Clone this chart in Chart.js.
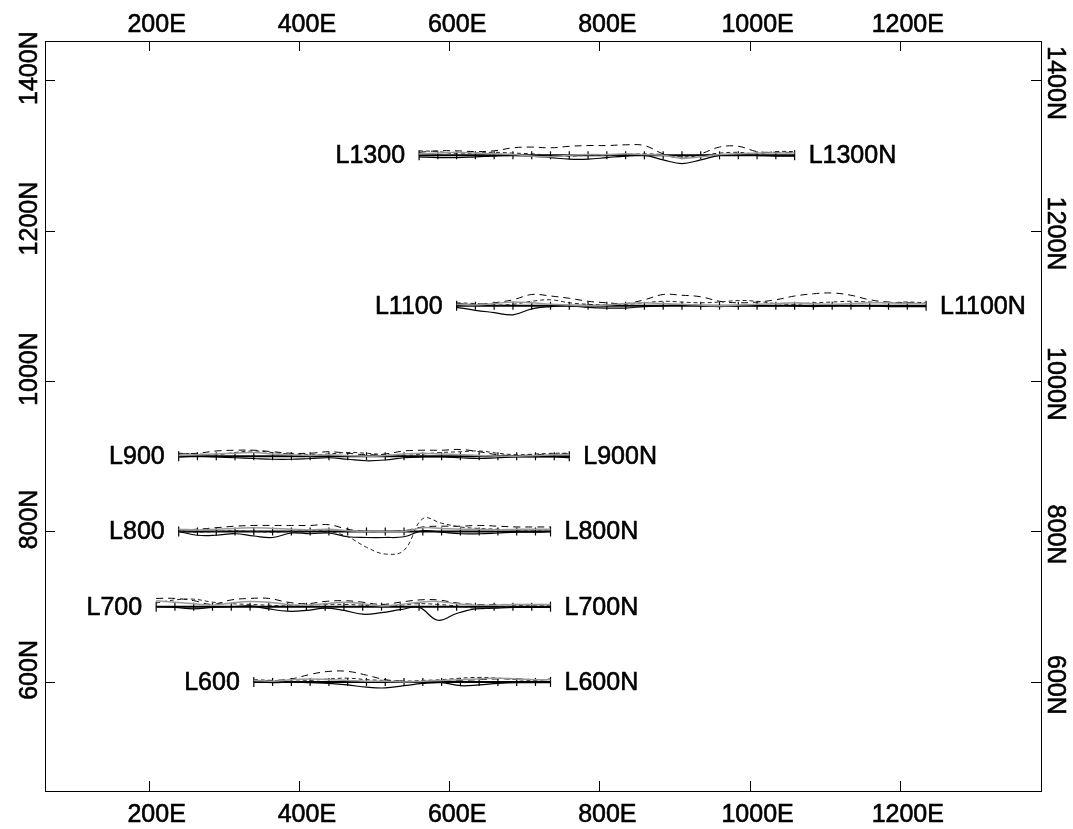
<!DOCTYPE html>
<html>
<head>
<meta charset="utf-8">
<script src="https://cdn.jsdelivr.net/npm/chart.js@4.4.0/dist/chart.umd.min.js"></script>
<style>
  html, body { margin: 0; padding: 0; background: #fff; }
  #chart { display: block; }
</style>
</head>
<body>
<canvas id="chart" width="1073" height="829"></canvas>
<script>
// axis ticks
const eastTicks = [200, 400, 600, 800, 1000, 1200];
const northTicks = [600, 800, 1000, 1200, 1400];

// survey lines
const lineNames = ["L1300", "L1100", "L900", "L800", "L700", "L600"];
const lineNorths = [1300, 1100, 900, 800, 700, 600];
const lineStarts = [560, 610, 240, 240, 210, 340];
const lineEnds = [1060, 1235, 760, 735, 735, 735];
const stationStep = 25;

// profile offsets (north units) at each station
const l1300Solid = [-2, -3, -3, -2, -1, 0, -1, -3, -5, -5, -3, -1, 0, -6, -11, -6, 0, 1, 0, -1, -1];
const l1300Dashed = [4, 6, 6, 5, 6, 10, 11, 10, 12, 13, 13, 14, 13, 2, -4, 2, 11, 12, 5, 4, 4];
const l1300Dotted = [6, 5, 2, 3, 4, 3, 2, 0, -1, 0, 0, 1, 2, 1, -2, 0, 3, 4, 2, 5, 5];
const l1300Gray = [2, 3, 4, 3, 2, 1, -1, -2, 0, 1, 1, 2, 1, 0, -4, -2, 1, 2, 3, 3, 3];

const l1100Solid = [-2, -6, -9, -12, -4, -1, 0, -2, -3, -3, -1, 0, 1, 0, -1, 0, 0, 0, 0, -1, 0, 0, 0, -1, -1, -1];
const l1100Dashed = [3, 2, 4, 8, 15, 13, 10, 6, 4, 3, 8, 15, 14, 12, 6, 4, 5, 8, 13, 16, 17, 14, 8, 5, 4, 3];
const l1100Dotted = [4, 3, 1, 2, 6, 8, 4, 2, 1, 2, 4, 6, 5, 4, 5, 7, 6, 3, 2, 4, 5, 6, 5, 4, 5, 4];
const l1100Gray = [2, 1, 3, 5, 4, 2, 1, 0, 1, 3, 4, 3, 2, 1, 0, 1, 2, 3, 4, 3, 2, 3, 4, 4, 3, 3];

const l900Solid = [-1, 0, -1, -2, -3, -4, -4, -3, -2, -4, -6, -5, -2, -1, -1, -2, -3, -2, -1, -1, -1, -2];
const l900Dashed = [3, 4, 7, 8, 8, 6, 4, 4, 6, 4, 2, 3, 7, 8, 8, 9, 6, 2, 1, 2, 3, 3];
const l900Dotted = [4, 3, 2, 5, 7, 5, 3, 2, 3, 5, 4, 2, 1, 3, 5, 6, 7, 4, 2, 3, 4, 4];
const l900Gray = [1, 2, 3, 4, 5, 3, 2, 1, 2, 1, 0, 1, 3, 4, 3, 2, 1, 0, 0, 1, 2, 2];

const l800Solid = [0, -5, -5, -3, -6, -8, -2, -3, -2, -7, -8, -8, -7, 1, -1, -3, -3, -2, -1, -1, 0];
const l800Dashed = [2, 3, 5, 7, 8, 8, 8, 8, 9, 3, 0, 0, 1, 6, 7, 7, 8, 7, 6, 6, 6];
const l800Dotted = [0, -1, 0, 1, 0, -1, 0, 1, 0, -7, -21, -30, -25, 17, 11, 6, 4, 3, 2, 2, 2];
const l800Gray = [3, 2, 3, 4, 5, 4, 3, 2, 3, 1, 0, 0, 0, 5, 4, 3, 3, 2, 3, 3, 3];

const l700Solid = [0, -1, -3, -1, 0, 1, -3, -6, -5, -2, -5, -10, -8, -4, -1, -18, -9, -3, -2, -1, -1, -1];
const l700Dashed = [11, 11, 8, 3, 9, 11, 11, 6, 4, 7, 8, 6, 3, 6, 9, 9, 5, 3, 3, 3, 3, 3];
const l700Dotted = [5, 9, 10, 6, 4, 3, 2, 1, 2, 3, 3, 2, 0, 2, 4, 3, 1, -2, -1, 1, 2, 2];
const l700Gray = [8, 6, 4, 2, 5, 7, 6, 3, 2, 4, 6, 4, 1, 3, 6, 7, 4, 2, 2, 3, 3, 3];

const l600Solid = [0, -1, 0, -1, -2, -4, -7, -8, -5, -2, -1, -5, -4, -2, -1, -1, -1];
const l600Dashed = [2, 2, 4, 10, 14, 14, 9, 3, 1, 0, 1, 2, 3, 4, 4, 3, 3];
const l600Dotted = [3, 2, 1, 2, 4, 5, 3, 2, 1, 2, 3, 5, 6, 5, 3, 2, 4];
const l600Gray = [2, 1, 3, 4, 3, 2, 1, 1, 0, 1, 2, 3, 4, 5, 4, 3, 3];

const solidSets = [l1300Solid, l1100Solid, l900Solid, l800Solid, l700Solid, l600Solid];
const dashedSets = [l1300Dashed, l1100Dashed, l900Dashed, l800Dashed, l700Dashed, l600Dashed];
const dottedSets = [l1300Dotted, l1100Dotted, l900Dotted, l800Dotted, l700Dotted, l600Dotted];
const graySets = [l1300Gray, l1100Gray, l900Gray, l800Gray, l700Gray, l600Gray];

const FONT = "25px 'Liberation Sans', Arial, sans-serif";

function stationsFor(i) {
  const xs = [];
  for (let x = lineStarts[i]; x < lineEnds[i]; x += stationStep) xs.push(x);
  xs.push(lineEnds[i]);
  return xs;
}

function profile(i, offsets) {
  const xs = stationsFor(i);
  return xs.map((x, k) => ({ x: x, y: lineNorths[i] + offsets[k] }));
}

const datasets = [];
lineNames.forEach((name, i) => {
  const curve = { showLine: true, pointRadius: 0, tension: 0.4, fill: false };
  datasets.push(Object.assign({ label: name + " gray", data: profile(i, graySets[i]),
    borderColor: "#9a9a9a", borderWidth: 1.5 }, curve));
  datasets.push(Object.assign({ label: name + " dotted", data: profile(i, dottedSets[i]),
    borderColor: "#222", borderWidth: 1, borderDash: [4, 3] }, curve));
  datasets.push(Object.assign({ label: name + " dashed", data: profile(i, dashedSets[i]),
    borderColor: "#000", borderWidth: 1, borderDash: [7, 5] }, curve));
  datasets.push(Object.assign({ label: name + " solid", data: profile(i, solidSets[i]),
    borderColor: "#000", borderWidth: 1.2 }, curve));
  // the line itself with station marks
  const base = stationsFor(i).map((x) => ({ x: x, y: lineNorths[i] }));
  datasets.push({
    label: name,
    data: base,
    showLine: true,
    borderColor: "#000",
    borderWidth: 2,
    tension: 0,
    pointStyle: "line",
    rotation: 90,
    pointRadius: (c) => (c.dataIndex === 0 || c.dataIndex === base.length - 1 ? 5 : 4),
    pointBorderColor: "#000",
    pointBorderWidth: 1.2,
  });
});

// frame, inward ticks, rotated labels and line names
const frameAxes = {
  id: "frameAxes",
  afterDraw(chart) {
    const { ctx, chartArea: a } = chart;
    const xs = chart.scales.x;
    const ys = chart.scales.y;
    ctx.save();
    ctx.strokeStyle = "#000";
    ctx.lineWidth = 1;
    ctx.strokeRect(a.left + 0.5, a.top + 0.5, a.right - a.left, a.bottom - a.top);

    ctx.beginPath();
    eastTicks.forEach((v) => {
      const px = Math.round(xs.getPixelForValue(v)) + 0.5;
      ctx.moveTo(px, a.top); ctx.lineTo(px, a.top + 10);
      ctx.moveTo(px, a.bottom); ctx.lineTo(px, a.bottom - 10);
    });
    northTicks.forEach((v) => {
      const py = Math.round(ys.getPixelForValue(v)) + 0.5;
      ctx.moveTo(a.left, py); ctx.lineTo(a.left + 10, py);
      ctx.moveTo(a.right, py); ctx.lineTo(a.right - 10, py);
    });
    ctx.stroke();

    // text a touch heavier, like the scanned original
    ctx.fillStyle = "#000";
    ctx.lineWidth = 0.6;
    ctx.font = FONT;
    const put = (t, x, y) => { ctx.fillText(t, x, y); ctx.strokeText(t, x, y); };

    ctx.textAlign = "center";
    ctx.textBaseline = "alphabetic";
    eastTicks.forEach((v) => {
      const px = xs.getPixelForValue(v) + 8;
      put(v + "E", px, 32);
      put(v + "E", px, 822);
    });
    northTicks.forEach((v) => {
      const py = ys.getPixelForValue(v);
      ctx.save();
      ctx.translate(37, py - 12);
      ctx.rotate(-Math.PI / 2);
      put(v + "N", 0, 0);
      ctx.restore();
      ctx.save();
      ctx.translate(1048, py + 3);
      ctx.rotate(Math.PI / 2);
      put(v + "N", 0, 0);
      ctx.restore();
    });

    ctx.textBaseline = "middle";
    lineNames.forEach((name, i) => {
      const py = ys.getPixelForValue(lineNorths[i]) + 1;
      ctx.textAlign = "right";
      put(name, xs.getPixelForValue(lineStarts[i]) - 14, py);
      ctx.textAlign = "left";
      put(name + "N", xs.getPixelForValue(lineEnds[i]) + 14, py);
    });
    ctx.restore();
  },
};

new Chart(document.getElementById("chart"), {
  type: "scatter",
  data: { datasets: datasets },
  options: {
    responsive: false,
    devicePixelRatio: 1,
    animation: false,
    events: [],
    layout: { padding: { left: 45, right: 32, top: 41, bottom: 38 } },
    scales: {
      x: { type: "linear", display: false, min: 62, max: 1388 },
      y: { type: "linear", display: false, min: 455, max: 1452 },
    },
    plugins: { legend: { display: false }, tooltip: { enabled: false } },
  },
  plugins: [frameAxes],
});
</script>
</body>
</html>
